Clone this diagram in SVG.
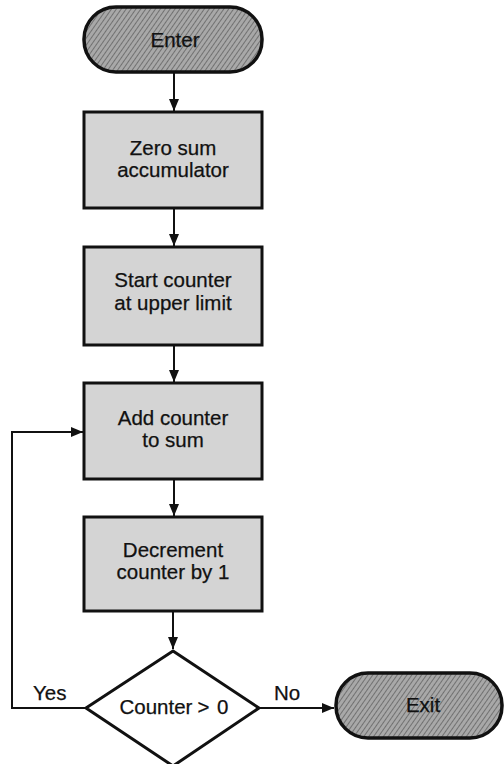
<svg xmlns="http://www.w3.org/2000/svg" width="504" height="764" viewBox="0 0 504 764">
  <defs>
    <style>
      text { font-family: "Liberation Sans", Arial, sans-serif; font-size: 20.5px; fill: #111; text-anchor: middle; stroke: #111; stroke-width: 0.25; }
      .lbl { text-anchor: start; }
      .box { fill: #d4d4d4; stroke: #111; stroke-width: 3; }
      .term { fill: url(#hatch); stroke: #111; stroke-width: 3.5; }
      .dec { fill: #ffffff; stroke: #111; stroke-width: 3; stroke-linejoin: miter; }
      .wire { fill: none; stroke: #111; stroke-width: 2; }
    </style>
    <pattern id="hatch" width="4" height="4" patternUnits="userSpaceOnUse" patternTransform="rotate(35)">
      <rect width="4" height="4" fill="#a8a8a8"/>
      <line x1="0" y1="0" x2="0" y2="4" stroke="#5e5e5e" stroke-width="1.5"/>
    </pattern>
    <marker id="arrow" viewBox="0 0 12 10" refX="12" refY="5" markerWidth="12" markerHeight="10" markerUnits="userSpaceOnUse" orient="auto">
      <path d="M0,0 L12,5 L0,10 Z" fill="#111"/>
    </marker>
  </defs>

  <!-- connectors -->
  <g id="connectors">
    <line class="wire" x1="174" y1="73" x2="174" y2="111" marker-end="url(#arrow)"/>
    <line class="wire" x1="174" y1="209" x2="174" y2="246" marker-end="url(#arrow)"/>
    <line class="wire" x1="174" y1="346" x2="174" y2="382" marker-end="url(#arrow)"/>
    <line class="wire" x1="174" y1="480" x2="174" y2="516" marker-end="url(#arrow)"/>
    <line class="wire" x1="173" y1="612" x2="173" y2="649" marker-end="url(#arrow)"/>
    <polyline class="wire" points="86,708 12,708 12,432 83,432" marker-end="url(#arrow)"/>
    <line class="wire" x1="259" y1="708" x2="334" y2="708" marker-end="url(#arrow)"/>
  </g>

  <g id="enter">
    <rect class="term" x="84" y="7" width="178" height="65" rx="32" ry="32"/>
    <text x="175" y="47">Enter</text>
  </g>

  <g id="zero-sum">
    <rect class="box" x="84" y="112" width="178" height="96"/>
    <text x="173" y="155">Zero sum</text>
    <text x="173" y="177">accumulator</text>
  </g>

  <g id="start-counter">
    <rect class="box" x="84" y="247" width="178" height="98"/>
    <text x="173" y="287">Start counter</text>
    <text x="173" y="310">at upper limit</text>
  </g>

  <g id="add-counter">
    <rect class="box" x="84" y="383" width="178" height="96"/>
    <text x="173" y="425">Add counter</text>
    <text x="173" y="447">to sum</text>
  </g>

  <g id="decrement">
    <rect class="box" x="84" y="517" width="178" height="94"/>
    <text x="173" y="557">Decrement</text>
    <text x="173" y="579">counter by 1</text>
  </g>

  <g id="test">
    <polygon class="dec" points="173,651 259,708 173,766 86,708"/>
    <text x="174" y="714">Counter<tspan dx="5">&gt;</tspan><tspan dx="2"> 0</tspan></text>
  </g>

  <g id="branch-labels">
    <text class="lbl" x="33" y="700">Yes</text>
    <text class="lbl" x="274" y="700">No</text>
  </g>

  <g id="exit">
    <rect class="term" x="336" y="673" width="166" height="65" rx="32" ry="32"/>
    <text x="423" y="712">Exit</text>
  </g>
</svg>
